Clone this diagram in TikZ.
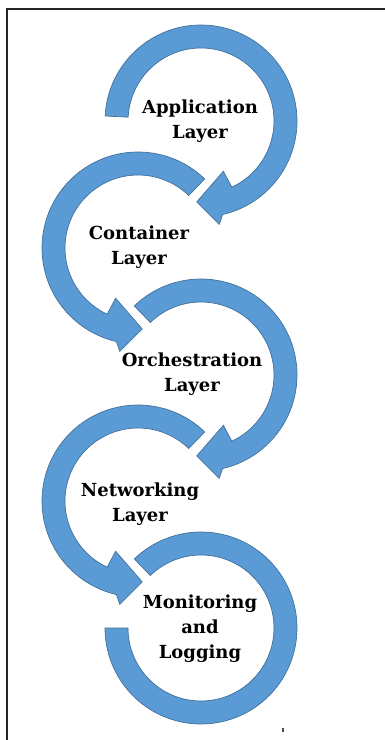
\documentclass[tikz,border=0pt]{standalone}
\usepackage{fontspec}
\setmainfont{DejaVu Serif}
\definecolor{ringfill}{HTML}{5B9BD5}
\definecolor{ringline}{HTML}{41719C}
\tikzset{
  ring/.style={fill=ringfill, draw=ringline, line width=0.7pt, line join=miter},
  lbl/.style={font=\bfseries\fontsize{18}{25}\selectfont, align=center, inner sep=0pt, text=black},
  frame/.style={draw=black!85, line width=1.6pt}
}
\begin{document}
\begin{tikzpicture}[x=1pt,y=1pt]
\useasboundingbox (0,0) rectangle (385,-740);
% frame (cropped on right and bottom)
\draw[frame] (7,-760) -- (7,-9) -- (400,-9);
% arc 1 (Application)
\begin{scope}[shift={(201,-121)}]
\path[ring] (177:96) arc[start angle=177, end angle=-77, radius=96] -- (-80:105) -- (-93:81) -- (-66:55) -- (-65:73) arc[start angle=-65, end angle=177, radius=73] -- cycle;
\end{scope}
% arc 2 (Container)
\begin{scope}[shift={(138,-248)}]
\path[ring] (46:96) arc[start angle=46, end angle=257, radius=96] -- (260:105) -- (273:81) -- (246:55) -- (245:73) arc[start angle=245, end angle=46, radius=73] -- cycle;
\end{scope}
% arc 3 (Orchestration)
\begin{scope}[shift={(201,-375)}]
\path[ring] (134:96) arc[start angle=134, end angle=-77, radius=96] -- (-80:105) -- (-93:81) -- (-66:55) -- (-65:73) arc[start angle=-65, end angle=134, radius=73] -- cycle;
\end{scope}
% arc 4 (Networking)
\begin{scope}[shift={(138,-501)}]
\path[ring] (46:96) arc[start angle=46, end angle=257, radius=96] -- (260:105) -- (273:81) -- (246:55) -- (245:73) arc[start angle=245, end angle=46, radius=73] -- cycle;
\end{scope}
% arc 5 (Monitoring)
\begin{scope}[shift={(201,-628)}]
\path[ring] (134:96) arc[start angle=134, end angle=-180, radius=96] -- (180:73) arc[start angle=-180, end angle=134, radius=73] -- cycle;
\end{scope}
% labels
\node[lbl] (app) at (200,-121) {Application\\Layer};
\node[lbl] (cont) at (139,-247) {Container\\Layer};
\node[lbl] (orch) at (192,-374) {Orchestration\\Layer};
\node[lbl] (net) at (140,-504) {Networking\\Layer};
\node[lbl] (mon) at (200,-629) {Monitoring\\and\\Logging};
% small mark
\fill[black!70] (282.3,-727.5) rectangle (284,-731.5);
\end{tikzpicture}
\end{document}
